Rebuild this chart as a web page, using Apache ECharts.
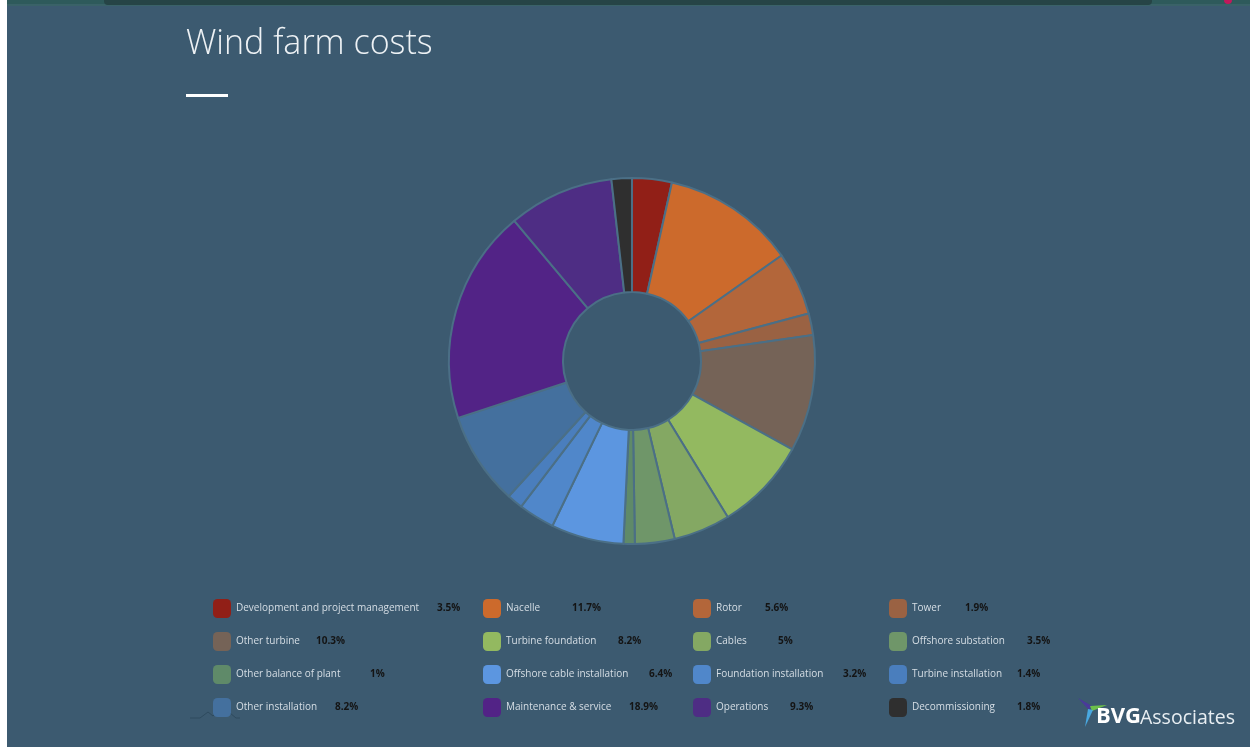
<!DOCTYPE html>
<html>
<head>
<meta charset="utf-8">
<script src="https://cdn.jsdelivr.net/npm/echarts@6/dist/echarts.min.js"></script>
<style>
html,body{margin:0;padding:0;background:#3c5a70;}
#chart{width:1250px;height:747px;}
</style>
</head>
<body>
<div id="chart"></div>
<script>
// ---- data ----
const categories = [
  "Development and project management", "Nacelle", "Rotor", "Tower",
  "Other turbine", "Turbine foundation", "Cables", "Offshore substation",
  "Other balance of plant", "Offshore cable installation", "Foundation installation", "Turbine installation",
  "Other installation", "Maintenance & service", "Operations", "Decommissioning"
];
const shares = [3.5, 11.7, 5.6, 1.9, 10.3, 8.2, 5, 3.5, 1, 6.4, 3.2, 1.4, 8.2, 18.9, 9.3, 1.8];
const colors = [
  "#911f17", "#cc6a2c", "#b3663a", "#9a6243",
  "#756357", "#93b960", "#84a863", "#6f9669",
  "#5f8a69", "#5c96e0", "#5087ca", "#4a7ebd",
  "#44709e", "#522386", "#4e2d84", "#2f2f2f"
];

// ---- layout (legend value offsets, px from name start) ----
const valueOffset = {
  "Development and project management": 201, "Other turbine": 80, "Other balance of plant": 134, "Other installation": 99,
  "Nacelle": 66, "Turbine foundation": 112, "Offshore cable installation": 143, "Maintenance & service": 123,
  "Rotor": 49, "Cables": 62, "Foundation installation": 127, "Operations": 74,
  "Tower": 53, "Offshore substation": 115, "Turbine installation": 105, "Decommissioning": 105
};
const colLeft = [213, 483, 693, 889];

const pieData = categories.map((c, i) => ({ name: c, value: shares[i], itemStyle: { color: colors[i] } }));

const rich = {};
categories.forEach((c, i) => {
  rich['n' + i] = { width: valueOffset[c], fontSize: 10, lineHeight: 19, color: '#d6dee5', fontFamily: 'Open Sans' };
});
rich.v = { fontSize: 10, lineHeight: 19, fontWeight: 'bold', color: '#141414', fontFamily: 'Open Sans' };

const legends = colLeft.map((x, col) => ({
  orient: 'vertical',
  left: x,
  top: 599,
  itemWidth: 18,
  itemHeight: 19,
  itemGap: 14,
  icon: 'roundRect',
  selectedMode: false,
  padding: 0,
  itemStyle: { borderWidth: 0 },
  data: [0, 1, 2, 3].map(r => categories[r * 4 + col]),
  formatter: function (name) {
    const i = categories.indexOf(name);
    return '{n' + i + '|' + name + '}{v|' + shares[i] + '%}';
  },
  textStyle: { rich: rich, lineHeight: 19, padding: [0, 0, 0, 0] }
}));

const chart = echarts.init(document.getElementById('chart'), null, { renderer: 'canvas' });
chart.setOption({
  backgroundColor: '#3c5a70',
  animation: false,
  legend: legends,
  series: [{
    type: 'pie',
    center: [632, 361],
    radius: [69, 183],
    startAngle: 90,
    clockwise: true,
    label: { show: false },
    labelLine: { show: false },
    emphasis: { disabled: true },
    itemStyle: { borderColor: '#4b6f86', borderWidth: 2 },
    data: pieData
  }],
  graphic: [
    { type: 'rect', shape: { x: 0, y: 0, width: 1250, height: 5 }, style: { fill: '#2e5a5b' }, silent: true },
    { type: 'rect', shape: { x: 0, y: 4, width: 1250, height: 2 }, style: { fill: '#3a6268' }, silent: true },
    { type: 'rect', shape: { x: 104, y: 0, width: 1048, height: 5, r: [0, 0, 4, 4] }, style: { fill: '#264446' }, silent: true },
    { type: 'circle', shape: { cx: 1228, cy: 0, r: 4 }, style: { fill: '#c2185b' }, silent: true },
    { type: 'rect', shape: { x: 0, y: 0, width: 7, height: 747 }, style: { fill: '#ffffff' }, silent: true },
    { type: 'text', left: 186, top: 27, style: { text: 'Wind farm costs', fill: '#eef2f5', font: '300 34px "Open Sans"' }, silent: true },
    { type: 'rect', shape: { x: 186, y: 94, width: 42, height: 3 }, style: { fill: '#ffffff' }, silent: true },
    { type: 'polyline', shape: { points: [[190, 718], [200, 718], [208, 712], [213, 716], [218, 711], [224, 716], [230, 713], [236, 718], [240, 718]] }, style: { stroke: '#2e4a5e', lineWidth: 1, fill: null }, silent: true },
    { type: 'polygon', shape: { points: [[1078, 698], [1092, 706], [1089, 710]] }, style: { fill: '#4a3a9a' }, silent: true },
    { type: 'polygon', shape: { points: [[1090, 706], [1107, 705], [1092, 711]] }, style: { fill: '#6cc04a' }, silent: true },
    { type: 'polygon', shape: { points: [[1088, 709], [1093, 710], [1085, 727]] }, style: { fill: '#49a8e0' }, silent: true },
    { type: 'text', left: 1096, top: 706, style: { text: 'BVG', fill: '#ffffff', font: 'bold 22px "Open Sans"' }, silent: true },
    { type: 'text', left: 1140, top: 708, style: { text: 'Associates', fill: '#e8eef2', font: '19.5px "Open Sans"' }, silent: true }
  ]
});
</script>
</body>
</html>
